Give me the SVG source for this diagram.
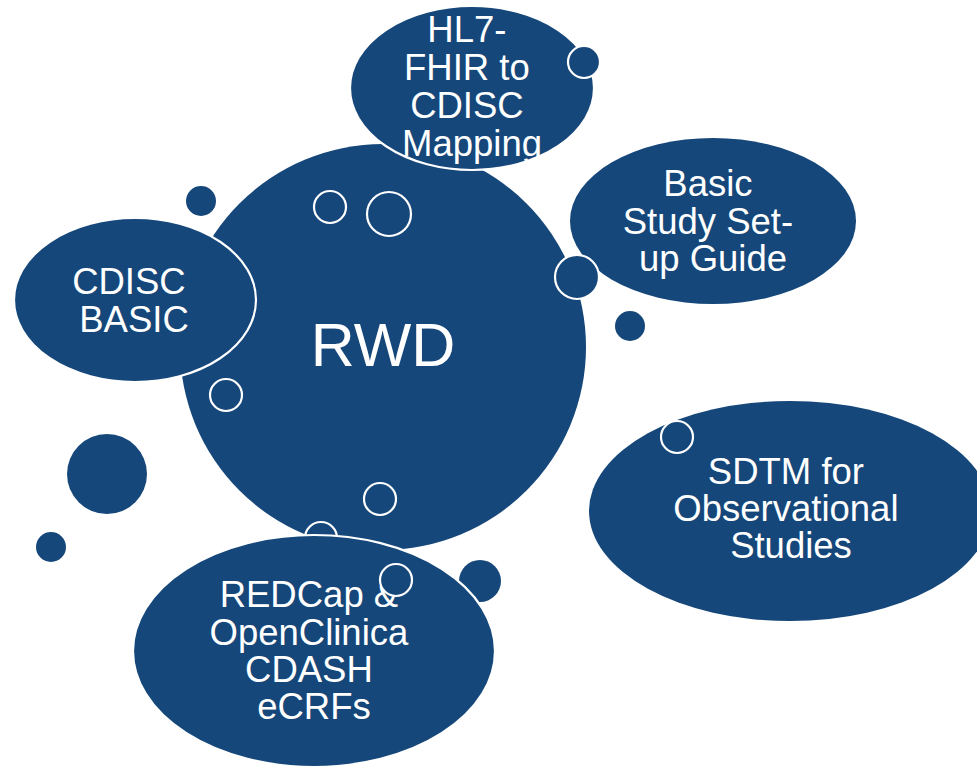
<svg xmlns="http://www.w3.org/2000/svg" width="977" height="767" viewBox="0 0 977 767">
  <style>
    .blob { fill: #15477a; }
    .edge { fill: #15477a; stroke: #ffffff; stroke-width: 2.2; }
    .lbl { fill: #ffffff; font-family: "Liberation Sans", Arial, sans-serif; font-size: 36.5px; text-anchor: middle; }
  </style>
  <rect width="977" height="767" fill="#ffffff"/>

  <!-- central hub -->
  <g id="rwd">
    <circle class="blob" cx="383" cy="347" r="203"/>
    <text class="lbl" x="383" y="366" style="font-size:61px">RWD</text>
  </g>

  <!-- decorative bubbles -->
  <g id="bubbles">
    <circle class="edge" cx="330" cy="207" r="16"/>
    <circle class="edge" cx="389" cy="214" r="22"/>
    <circle class="edge" cx="226" cy="395" r="16"/>
    <circle class="edge" cx="380" cy="499" r="16"/>
    <circle class="edge" cx="321" cy="538" r="16"/>
    <circle class="blob" cx="201" cy="201" r="15"/>
    <circle class="blob" cx="107" cy="474" r="40"/>
    <circle class="blob" cx="51" cy="547" r="15"/>
    <circle class="blob" cx="630" cy="326" r="15"/>
    <circle class="blob" cx="480" cy="581" r="21"/>
  </g>

  <g id="hl7-fhir">
    <ellipse class="edge" cx="472" cy="88" rx="122" ry="82"/>
    <text class="lbl">
      <tspan x="472" y="42">HL7-</tspan>
      <tspan x="472" y="80">FHIR to</tspan>
      <tspan x="472" y="118">CDISC</tspan>
      <tspan x="472" y="156">Mapping</tspan>
    </text>
    <circle class="edge" cx="584" cy="62" r="16"/>
  </g>

  <g id="cdisc-basic">
    <ellipse class="edge" cx="135" cy="300" rx="121" ry="82"/>
    <text class="lbl">
      <tspan x="134" y="294">CDISC</tspan>
      <tspan x="134" y="332">BASIC</tspan>
    </text>
  </g>

  <g id="study-setup">
    <ellipse class="blob" cx="713" cy="221" rx="143" ry="83"/>
    <text class="lbl">
      <tspan x="713" y="196">Basic</tspan>
      <tspan x="713" y="234">Study Set-</tspan>
      <tspan x="713" y="271">up Guide</tspan>
    </text>
    <circle class="edge" cx="577" cy="277" r="22"/>
  </g>

  <g id="sdtm-observational">
    <ellipse class="blob" cx="790" cy="511" rx="201" ry="110"/>
    <text class="lbl">
      <tspan x="791" y="484">SDTM for</tspan>
      <tspan x="791" y="521">Observational</tspan>
      <tspan x="791" y="558">Studies</tspan>
    </text>
    <circle class="edge" cx="677" cy="437" r="16"/>
  </g>

  <g id="redcap-openclinica">
    <ellipse class="edge" cx="314" cy="651" rx="181" ry="116"/>
    <text class="lbl">
      <tspan x="314" y="607">REDCap &amp;</tspan>
      <tspan x="314" y="645">OpenClinica</tspan>
      <tspan x="314" y="682">CDASH</tspan>
      <tspan x="314" y="719">eCRFs</tspan>
    </text>
    <circle class="edge" cx="396" cy="580" r="16"/>
  </g>

  <!-- no connectors in this diagram -->
  <g id="connectors"/>
</svg>
